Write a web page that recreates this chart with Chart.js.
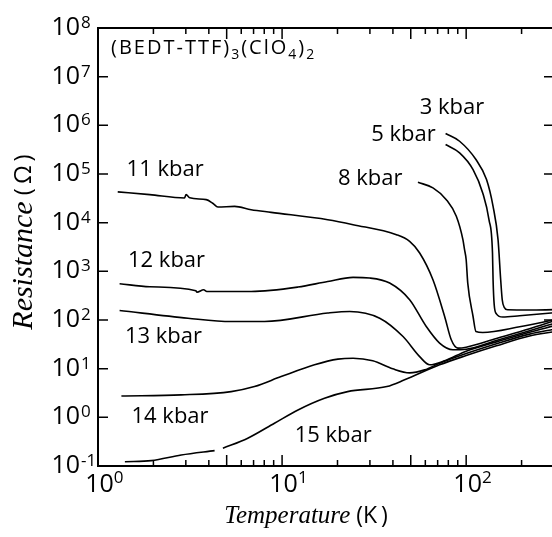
<!DOCTYPE html>
<html>
<head>
<meta charset="utf-8">
<script src="https://cdn.jsdelivr.net/npm/chart.js@4.4.1/dist/chart.umd.min.js"></script>
<style>
  html, body { margin: 0; padding: 0; background: #fff; overflow: hidden; }
  #wrap { width: 560px; height: 537px; }
</style>
</head>
<body>
<div id="wrap"><canvas id="c"></canvas></div>
<script>
// temperature (K) / resistance (ohm)
const t3 = [77.3, 92.1, 113, 129, 140, 149, 154, 157, 161, 168, 221, 300];
const r3 = [6.78e5, 4.71e5, 1.98e5, 7.67e4, 2.16e4, 4.47e3, 671, 261, 182, 162, 160, 163];

const t5 = [77.3, 92.1, 109, 123, 133, 139, 140, 142, 146, 158, 195, 300];
const r5 = [4.03e5, 2.72e5, 1.23e5, 4.08e4, 1.15e4, 2.38e3, 671, 206, 134, 115, 122, 141];

const t8 = [54.7, 66, 78, 88.4, 96, 98, 100, 102, 109, 113, 123, 195, 300];
const r8 = [6.75e4, 5.18e4, 2.97e4, 1.35e4, 4.47e3, 2.78e3, 1.73e3, 574, 118, 57.9, 55.3, 72.4, 101];

const t11 = [1.28, 1.91, 2.95, 3.01, 3.15, 3.87, 4.2, 4.48, 5.52, 6.79, 8.72, 17.7, 24.3, 41.8, 49.3, 55.9, 66, 76.4, 83, 90.1, 100, 146, 221, 300];
const r11 = [4.29e4, 3.77e4, 3.22e4, 3.77e4, 3.25e4, 2.97e4, 2.51e4, 2.10e4, 2.16e4, 1.85e4, 1.63e4, 1.15e4, 9.10e3, 5.66e3, 4.12e3, 2.38e3, 671, 118, 39.2, 26.4, 27.5, 41.7, 66.1, 95.5];

const t12 = [1.31, 1.91, 3.4, 3.45, 3.75, 3.9, 6.79, 12.2, 17.7, 24.3, 29.9, 38.4, 49.3, 60.7, 71.7, 84.7, 100, 146, 221, 300];
const r12 = [556, 482, 398, 372, 417, 385, 385, 475, 619, 750, 728, 574, 261, 73.5, 33.5, 24.4, 25.1, 38, 60.3, 85.1];

const t13 = [1.31, 3.08, 5.29, 8.03, 17.7, 23.3, 33.9, 45.4, 55.9, 63.3, 76.4, 100, 146, 221, 300];
const r13 = [157, 109, 93.1, 93.1, 139, 150, 109, 45.7, 17.7, 12.0, 14.5, 22.9, 35.5, 56.2, 75.9];

const t14 = [1.34, 2.83, 5.29, 7.08, 9.88, 15.0, 20.1, 24.3, 31.1, 39.9, 49.3, 59.5, 71.7, 100, 146, 221, 300];
const r14 = [2.75, 2.89, 3.38, 4.29, 6.87, 12.0, 15.7, 16.4, 14.5, 9.91, 8.20, 9.44, 12.9, 20.4, 32.4, 51.3, 64.6];

const t15 = [1.40, 1.95, 2.83, 4.30, 4.5, 4.77, 6.51, 9.09, 12.2, 17.0, 22.7, 37.1, 46.3, 71.7, 100, 146, 221, 300];
const r15 = [0.122, 0.129, 0.168, 0.207, null, 0.231, 0.372, 0.757, 1.42, 2.47, 3.38, 4.29, 5.89, 12.0, 18.6, 29.5, 46.8, 57.5];

const curves = [[t3, r3], [t5, r5], [t8, r8], [t11, r11], [t12, r12], [t13, r13], [t14, r14], [t15, r15]];

// axis ticks
const yExps = [-1, 0, 1, 2, 3, 4, 5, 6, 7, 8];
const xLabelExps = [0, 1, 2];
const xMinor = [2, 3, 4, 5, 6, 7, 8, 9, 20, 30, 40, 50, 60, 70, 80, 90, 200, 300];
const xLong = [1, 5, 10, 50, 100];

// curve labels, anchored at left/baseline in data units
const labelText = ['3 kbar', '5 kbar', '8 kbar', '11 kbar', '12 kbar', '13 kbar', '14 kbar', '15 kbar'];
const labelT = [55.9, 30.5, 20.1, 1.43, 1.455, 1.40, 1.52, 11.7];
const labelR = [1.67e6, 4.71e5, 6.05e4, 8.97e4, 1.22e3, 33.5, 0.757, 0.316];

const SANS = '"Open Sans", "Noto Sans", sans-serif';
const SERIF = '"Liberation Serif", "DejaVu Serif", serif';

function rich(ctx, parts, x, y) {
  for (const p of parts) {
    ctx.font = (p.sub ? '14px ' : '20px ') + SANS;
    ctx.fillText(p.t, x, p.sub ? y + 5 : y);
    x += ctx.measureText(p.t).width;
  }
}

const decor = {
  id: 'decor',
  afterDatasetsDraw(chart) {
    const { ctx, chartArea: a, scales: { x, y } } = chart;
    ctx.save();
    ctx.strokeStyle = '#000';
    ctx.fillStyle = '#000';

    ctx.lineWidth = 1.5;
    ctx.beginPath();
    for (const e of yExps) {
      const py = y.getPixelForValue(Math.pow(10, e));
      ctx.moveTo(a.left, py); ctx.lineTo(a.left + 10, py);
      ctx.moveTo(a.right, py); ctx.lineTo(a.right - 10, py);
    }
    for (const t of xLong.concat(xMinor)) {
      const px = x.getPixelForValue(t);
      const len = xLong.includes(t) ? 11 : 6;
      ctx.moveTo(px, a.bottom); ctx.lineTo(px, a.bottom - len);
      ctx.moveTo(px, a.top); ctx.lineTo(px, a.top + len);
    }
    ctx.stroke();

    ctx.lineWidth = 2;
    ctx.strokeRect(a.left, a.top, a.right - a.left, a.bottom - a.top);

    // y tick labels 10^n
    ctx.textBaseline = 'alphabetic';
    for (const e of yExps) {
      const py = y.getPixelForValue(Math.pow(10, e));
      ctx.font = '25px ' + SANS;
      ctx.textAlign = 'right';
      ctx.fillText('10', a.left - 18, py + 7);
      ctx.font = '17px ' + SANS;
      ctx.textAlign = 'left';
      ctx.fillText(String(e), a.left - 17, py);
    }
    // x tick labels 10^n
    for (const e of xLabelExps) {
      const px = x.getPixelForValue(Math.pow(10, e)) + 1.5;
      ctx.font = '25px ' + SANS;
      ctx.textAlign = 'center';
      ctx.fillText('10', px, a.bottom + 26);
      const w = ctx.measureText('10').width;
      ctx.font = '17px ' + SANS;
      ctx.textAlign = 'left';
      ctx.fillText(String(e), px + w / 2, a.bottom + 17);
    }

    // curve labels
    ctx.font = '22px ' + SANS;
    ctx.textAlign = 'left';
    labelText.forEach((s, i) => {
      ctx.fillText(s, x.getPixelForValue(labelT[i]), y.getPixelForValue(labelR[i]));
    });

    // compound name
    ctx.letterSpacing = '2px';
    rich(ctx, [
      { t: '(BEDT-TTF)' }, { t: '3', sub: true },
      { t: '(ClO' }, { t: '4', sub: true }, { t: ')' }, { t: '2', sub: true }
    ], a.left + 13, a.top + 26);
    ctx.letterSpacing = '0px';

    // axis titles
    const xt1 = 'Temperature', xt2 = ' (K\u2009)';
    ctx.font = 'italic 25px ' + SERIF;
    const w1 = ctx.measureText(xt1).width;
    ctx.font = '23px ' + SANS;
    const w2 = ctx.measureText(xt2).width;
    let sx = 306 - (w1 + w2) / 2;
    ctx.font = 'italic 25px ' + SERIF;
    ctx.fillText(xt1, sx, 523);
    ctx.font = '23px ' + SANS;
    ctx.fillText(xt2, sx + w1, 523);

    ctx.translate(32, 242);
    ctx.rotate(-Math.PI / 2);
    const yt1 = 'Resistance', yt2 = ' (\u2009\u03A9\u2009)';
    ctx.font = 'italic 30px ' + SERIF;
    const v1 = ctx.measureText(yt1).width;
    ctx.font = '24px ' + SANS;
    const v2 = ctx.measureText(yt2).width;
    sx = -(v1 + v2) / 2;
    ctx.font = 'italic 30px ' + SERIF;
    ctx.fillText(yt1, sx, 0);
    ctx.font = '24px ' + SANS;
    ctx.fillText(yt2, sx + v1, -1);

    ctx.restore();
  }
};

new Chart(document.getElementById('c'), {
  type: 'line',
  data: {
    datasets: curves.map(([t, r]) => ({
      data: t.map((v, i) => ({ x: v, y: r[i] })),
      borderColor: '#000',
      borderWidth: 1.6,
      pointRadius: 0,
      fill: false,
      spanGaps: false,
      cubicInterpolationMode: 'monotone'
    }))
  },
  options: {
    responsive: true,
    maintainAspectRatio: false,
    animation: false,
    layout: { padding: { left: 98, right: 6, top: 28, bottom: 71 }, autoPadding: false },
    plugins: { legend: { display: false }, tooltip: { enabled: false } },
    scales: {
      x: { type: 'logarithmic', min: 1, max: 300, display: false },
      y: { type: 'logarithmic', min: 0.1, max: 1e8, display: false }
    }
  },
  plugins: [decor]
});
</script>
</body>
</html>
